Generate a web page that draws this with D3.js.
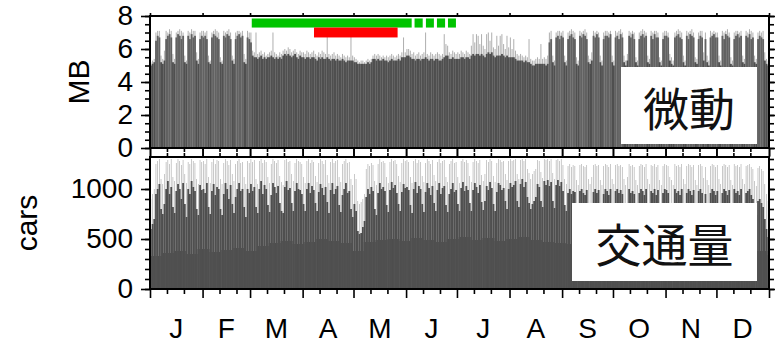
<!DOCTYPE html>
<html>
<head>
<meta charset="utf-8">
<script src="https://cdn.jsdelivr.net/npm/d3@7"></script>
<style>
body { margin: 0; background: #fff; }
text { font-family: "Liberation Sans", Arial, sans-serif; }
</style>
</head>
<body>
<div id="chart"></div>
<script>

// daily values for 2017, one line per month
var mbPeak = [
  5.2,5.3,5.4,7.0,7.1,7.1,5.6, 5.4,5.9,7.1,7.0,7.2,7.1,5.7, 5.4,7.0,7.1,7.2,7.1,7.0,5.6, 5.3,7.1,7.0,7.2,7.1,7.1,5.8, 5.4,7.0,7.1,
  7.1,7.0,7.1,5.6,5.3, 7.0,7.1,7.2,7.1,7.0,5.5,5.3, 7.1,7.0,7.1,7.2,7.0,5.6,5.4, 7.0,7.1,7.1,7.0,7.1,5.7,5.4, 7.1,7.0,
  7.0,5.9,5.8,7.0,5.7,5.8,5.9,5.7,5.8,5.6, 5.7,5.8,5.9,7.0,5.8,5.7,5.6,5.8,5.7,5.9, 6.0,5.9,6.1,6.0,5.8,5.9,6.0,5.8,5.7,5.9, 5.8,
  5.8,5.7,5.9,5.8,5.7,5.8,5.9,5.7,5.6,5.8, 5.7,5.9,5.8,5.7,6.9,5.7,5.6,5.7,5.8,5.6, 5.7,5.6,5.5,5.7,5.6,5.5,5.6,5.5,7.0,5.6,
  5.5,5.4,5.3,5.2,5.3,5.3,5.2,5.3,5.4,5.3, 5.4,5.6,5.7,5.6,5.7,5.6,5.5,5.6,5.5,5.6, 5.5,5.6,5.7,5.6,5.5,5.6,5.7,5.6,5.8,6.7, 5.8,
  6.0,6.0,5.9,5.7,5.8,5.6,5.7,5.8,5.6,5.7, 5.8,7.0,5.7,5.6,5.8,5.7,5.6,5.7,5.8,5.7, 5.6,5.7,6.9,6.3,6.2,5.8,5.7,5.9,5.8,5.7,
  5.8,5.7,5.9,5.8,5.7,5.9,5.8,5.7,6.2,6.9, 6.4,6.9,6.8,6.3,6.9,6.2,6.0,6.9,7.0,6.5, 7.0,6.1,6.0,6.8,6.2,6.8,6.9,6.3,6.0,6.8, 6.1,
  6.7,6.0,6.6,5.9,5.7,5.6,5.7,5.6,5.5,5.6, 5.5,6.6,5.4,5.3,5.3,5.4,5.5,5.4,6.3,5.4, 5.5,5.4,5.6,7.0,7.1,5.6,5.3,7.0,7.1,7.1, 7.0,
  7.1,5.6,5.3, 7.0,7.1,7.2,7.1,7.0,5.5,5.3, 7.1,7.0,7.1,7.2,7.0,5.6,5.4, 5.8,7.1,7.0,7.1,7.0,5.6,5.3, 7.0,7.1,7.1,7.0,7.1,5.6,
  5.3, 7.1,7.0,7.1,7.2,7.0, 5.6,5.3, 5.7,7.1,7.0,7.1,7.0, 5.5,5.3, 7.0,7.1,7.2,7.1,7.0, 5.6,5.4, 7.1,7.0,7.1,7.1,7.0, 5.5,5.3, 7.0,7.1,
  7.1,7.0,5.7,5.5,5.3, 7.0,7.1,7.2,7.1,7.0,5.6,5.3, 7.1,7.0,7.1,7.2,7.0,5.5,5.4, 7.0,7.1,7.1,5.8,7.0,5.6,5.3, 7.1,7.0,7.1,7.0,
  7.0,5.6,5.3, 7.1,7.0,7.1,7.2,7.0,5.5,5.3, 7.0,7.1,7.1,7.0,7.1,5.6,5.4, 7.1,7.0,7.2,7.1,7.0,5.6,5.4, 7.0,7.1,7.0,7.1,5.8,5.4,5.3
];
var mbBody = [
  5.0,5.1,5.2,6.5,6.8,6.7,5.2, 5.1,5.3,6.6,6.8,6.9,6.7,5.2, 5.1,6.7,6.9,6.8,6.6,6.8,5.2, 5.1,6.8,6.6,6.9,6.7,6.8,5.3, 5.1,6.6,6.8,
  6.7,6.8,6.6,5.2,5.1, 6.7,6.9,6.8,6.7,6.6,5.2,5.1, 6.8,6.7,6.9,6.8,6.6,5.3,5.1, 6.6,6.8,6.9,6.7,6.8,5.2,5.1, 6.7,6.6,
  6.4,5.6,5.5,5.5,5.4,5.5,5.6,5.4,5.5,5.4, 5.5,5.5,5.6,5.5,5.4,5.5,5.4,5.5,5.4,5.6, 5.7,5.6,5.7,5.6,5.5,5.6,5.7,5.5,5.4,5.6, 5.5,
  5.5,5.4,5.5,5.5,5.4,5.5,5.5,5.4,5.3,5.5, 5.4,5.5,5.4,5.4,5.5,5.4,5.3,5.4,5.4,5.3, 5.4,5.3,5.3,5.4,5.3,5.2,5.3,5.3,5.3,5.3,
  5.2,5.2,5.1,5.1,5.1,5.1,5.1,5.1,5.2,5.1, 5.2,5.4,5.4,5.3,5.4,5.3,5.3,5.4,5.3,5.3, 5.2,5.3,5.4,5.3,5.3,5.3,5.4,5.3,5.5,5.5, 5.5,
  5.6,5.6,5.5,5.4,5.4,5.3,5.4,5.4,5.3,5.4, 5.4,5.5,5.4,5.3,5.4,5.4,5.3,5.4,5.4,5.3, 5.3,5.4,5.5,5.6,5.6,5.4,5.4,5.5,5.4,5.4,
  5.4,5.4,5.5,5.5,5.4,5.5,5.5,5.4,5.6,5.7, 5.6,5.7,5.7,5.6,5.7,5.6,5.5,5.7,5.8,5.7, 5.8,5.6,5.5,5.6,5.6,5.6,5.7,5.6,5.5,5.6, 5.5,
  5.5,5.5,5.5,5.4,5.3,5.3,5.3,5.3,5.2,5.3, 5.2,5.2,5.1,5.0,5.0,5.1,5.1,5.1,5.1,5.1, 5.1,5.0,5.1,6.4,6.6,5.2,5.0,6.7,6.8,6.6, 6.8,
  6.7,5.2,5.0, 6.6,6.8,6.9,6.7,6.6,5.1,5.0, 6.8,6.7,6.9,6.8,6.6,5.2,5.1, 5.3,6.8,6.7,6.9,6.7,5.2,5.0, 6.6,6.8,6.8,6.7,6.9,5.2,
  5.0, 6.7,6.8,6.6,6.9,6.7, 5.2,5.0, 5.3,6.8,6.7,6.9,6.6, 5.2,5.0, 6.6,6.8,6.9,6.7,6.8, 5.2,5.1, 6.8,6.6,6.9,6.7,6.7, 5.2,5.0, 6.6,6.8,
  6.8,6.7,5.3,5.1,5.0, 6.7,6.8,6.9,6.7,6.6,5.2,5.0, 6.8,6.6,6.9,6.8,6.7,5.2,5.1, 6.6,6.8,6.7,5.3,6.6,5.2,5.0, 6.7,6.8,6.9,6.7,
  6.7,5.2,5.0, 6.8,6.6,6.9,6.8,6.7,5.1,5.0, 6.6,6.8,6.9,6.7,6.8,5.2,5.1, 6.8,6.7,6.9,6.6,6.7,5.2,5.1, 6.6,6.8,6.7,6.6,5.3,5.1,5.0
];

var carsPeak = [
  900,950,1000,1250,1280,1300,1100, 1050,1150,1270,1290,1250,1300,1120, 1080,1260,1300,1280,1240,1290,1150, 1060,1270,1250,1300,1280,1260,1100, 1050,1290,1270,
  1280,1250,1300,1120,1060, 1270,1300,1250,1290,1280,1100,1050, 1260,1300,1280,1240,1290,1150,1080, 1250,1280,1300,1260,1270,1120,1050, 1280,1260,
  1300,1270,1290,1100,1050, 1280,1300,1260,1290,1270,1120,1060, 1250,1300,1280,1260,1290,1130,1070, 1040,1290,1300,1270,1280,1150,1080, 1260,1300,1280,1270,1250,
  1120,1060, 1280,1300,1260,1290,1270, 1130,1070, 1260,1300,1280,1250,1290, 1140,1060, 1270,1300,1260,1280,1290, 1120,1070, 1250,1280,1300,1260,1270, 1100,1040,
  1150,1100,880,850,870,900,950, 1200,1250,1230,1260,1240,1080,1040, 1250,1300,1270,1280,1260,1120,1060, 1270,1300,1280,1290,1250,1130,1070, 1260,1300,1280,
  1290,1270,1120,1060, 1280,1300,1260,1290,1270,1130,1070, 1260,1300,1280,1250,1290,1140,1080, 1270,1300,1260,1280,1290,1120,1070, 1250,1280,1300,1260,1270,
  1120,1060, 1280,1300,1270,1290,1260, 1130,1070, 1270,1300,1280,1260,1290, 1140,1080,1150, 1290,1270,1300,1280, 1130,1070, 1260,1300,1290,1270,1280, 1150,1090, 1280,
  1300,1280,1290,1300,1150,1100, 1290,1300,1280,1300,1200,1160,1100, 1150,1180,1200,1290,1280,1170,1110, 1300,1290,1300,1280,1300,1160,1100, 1290,1300,1280,1300,
  1240,1100,1050, 1230,1250,1220,1240,1230,1090,1040, 1240,1250,1230,1220,1240,1100,1050, 1120,1240,1250,1230,1240,1090,1040, 1230,1250,1240,1220,1250,1100,
  1050, 1240,1250,1230,1240,1220, 1100,1040, 1120,1250,1230,1240,1220, 1090,1040, 1230,1250,1240,1220,1250, 1100,1050, 1240,1230,1250,1220,1240, 1090,1040, 1230,1250,
  1240,1230,1120,1090,1040, 1250,1230,1240,1220,1250,1100,1050, 1230,1250,1240,1220,1240,1090,1040, 1240,1250,1230,1110,1220,1090,1040, 1230,1250,1240,1220,
  1240,1100,1050, 1230,1250,1240,1220,1240,1090,1040, 1250,1230,1240,1220,1250,1100,1050, 1230,1240,1250,1220,1200,1080,1030, 1210,1230,1200,1180,1050,950,880
];
var carsBody = [
  600,650,700,950,1000,1050,800, 750,850,1000,1080,950,1020,820, 760,980,1050,1000,900,1060,850, 720,1000,950,1080,1020,980,800, 740,1040,990,
  1000,960,1060,820,750, 980,1050,940,1020,1000,800,740, 950,1060,1000,900,1040,850,760, 920,1000,1060,980,1000,820,720, 1000,960,
  1050,980,1020,820,760, 1000,1080,950,1040,1000,840,770, 940,1060,1020,960,1030,860,780, 760,1020,1080,990,1010,860,780, 980,1060,1000,990,950,
  850,780, 1000,1060,960,1030,990, 860,780, 970,1050,1010,940,1020, 870,760, 990,1060,950,1000,1030, 840,770, 940,1000,1060,960,980, 800,720,
  850,780,580,550,560,620,680, 920,1000,950,1020,980,800,740, 960,1060,1000,1020,980,840,770, 990,1070,1010,1040,960,850,780, 970,1050,1010,
  1020,990,840,760, 1000,1070,960,1030,1000,850,770, 970,1060,1010,940,1030,860,780, 990,1060,950,1010,1030,840,770, 950,1000,1060,970,990,
  850,780, 1010,1070,980,1030,990, 860,780, 990,1060,1020,960,1040, 870,790,880, 1030,990,1070,1010, 850,780, 970,1060,1040,990,1010, 880,800, 1000,
  1060,1020,1040,1080,880,820, 1050,1100,1020,1070,920,860,800, 850,880,920,1050,1020,880,820, 1080,1040,1090,1030,1070,880,810, 1040,1090,1030,1070,
  980,840,780, 960,1000,950,980,970,820,760, 980,1000,960,940,990,840,780, 850,970,1000,960,990,830,770, 950,1000,980,940,1000,840,
  770, 980,1000,960,990,950, 840,770, 850,1000,960,980,950, 830,760, 960,1000,980,940,1000, 840,780, 980,960,1000,940,990, 830,760, 960,1000,
  990,960,850,820,760, 1000,960,980,940,1000,840,780, 960,1000,980,940,990,830,760, 980,1000,960,840,950,830,770, 960,1000,980,940,
  980,840,770, 960,1000,980,940,990,830,760, 1000,960,980,940,1000,840,780, 960,980,1000,940,900,800,740, 880,900,860,820,700,600,520
];
// weekly night-time floor of the traffic counts
var carsNight = [
  330,360,380,350,400,370,390,410,380,430,460,480,450,470,500,480,460,380,470,490,
  500,480,510,490,470,500,520,490,510,480,500,520,490,470,460,450,470,440,460,450,
  470,440,460,450,430,460,440,450,430,420,400,380,340
];

var months = ["J","F","M","A","M","J","J","A","S","O","N","D"];
var mbTicks = [0, 2, 4, 6, 8];
var carTicks = [0, 500, 1000];

// observation periods (day of year, 0 = Jan 1)
var greenStart = [60, 156, 162.7, 169.2, 175.7];
var greenEnd = [154.3, 160.8, 167.4, 174, 180.4];
var redStart = [96.7];
var redEnd = [146];
var greenRange = [7.3, 7.85];
var redRange = [6.7, 7.3];

var W = 775, H = 344;
var left = 150, right = 769;
var p1 = {top: 16, bottom: 148};
var p2 = {top: 157, bottom: 289};

var svg = d3.select("#chart").append("svg").attr("width", W).attr("height", H);

var t0 = new Date(2017, 0, 1), t1 = new Date(2018, 0, 1);
var x = d3.scaleTime().domain([t0, t1]).range([left, right]);
function dx(i) { return x(t0) + (x(t1) - x(t0)) * i / 365; }
var dayW = (right - left) / 365;

var yMB = d3.scaleLinear().domain([0, 8]).range([p1.bottom, p1.top]);
var yCar = d3.scaleLinear().domain([0, 1320]).range([p2.bottom, p2.top]);

var dark = "#4f4f4f", light = "#b0b0b0";

svg.append("clipPath").attr("id", "c1").append("rect")
  .attr("x", left).attr("y", p1.top).attr("width", right - left).attr("height", p1.bottom - p1.top);
svg.append("clipPath").attr("id", "c2").append("rect")
  .attr("x", left).attr("y", p2.top).attr("width", right - left).attr("height", p2.bottom - p2.top);

// ---- panel 1: MB
var g1 = svg.append("g").attr("clip-path", "url(#c1)");
g1.append("g").selectAll("rect").data(mbPeak).join("rect")
  .attr("x", function(v, i) { return dx(i) + dayW * 0.2; })
  .attr("width", dayW * 0.6)
  .attr("y", function(v) { return yMB(v); })
  .attr("height", function(v) { return yMB(0) - yMB(v); })
  .attr("fill", light);
g1.append("g").selectAll("rect").data(mbBody).join("rect")
  .attr("x", function(v, i) { return dx(i); })
  .attr("width", dayW + 0.15)
  .attr("y", function(v) { return yMB(v); })
  .attr("height", function(v) { return yMB(0) - yMB(v); })
  .attr("fill", function(v) { return v > 6 ? "#626262" : dark; });

// ---- panel 2: cars
var g2 = svg.append("g").attr("clip-path", "url(#c2)");
g2.append("g").selectAll("rect").data(carsNight).join("rect")
  .attr("x", function(v, i) { return dx(i * 7); })
  .attr("width", dayW * 7 + 0.2)
  .attr("y", function(v) { return yCar(v); })
  .attr("height", function(v) { return yCar(0) - yCar(v); })
  .attr("fill", dark);
g2.append("g").selectAll("rect").data(carsPeak).join("rect")
  .attr("x", function(v, i) { return dx(i) + dayW * 0.3; })
  .attr("width", dayW * 0.4)
  .attr("y", function(v) { return yCar(v); })
  .attr("height", function(v) { return yCar(0) - yCar(v); })
  .attr("fill", light);
g2.append("g").selectAll("rect").data(carsBody).join("rect")
  .attr("x", function(v, i) { return dx(i); })
  .attr("width", dayW + 0.1)
  .attr("y", function(v) { return yCar(v); })
  .attr("height", function(v) { return yCar(0) - yCar(v); })
  .attr("fill", dark);

// ---- green / red period bars
svg.append("g").selectAll("rect").data(greenStart).join("rect")
  .attr("x", function(v) { return dx(v); })
  .attr("width", function(v, i) { return dx(greenEnd[i]) - dx(v); })
  .attr("y", yMB(greenRange[1]))
  .attr("height", yMB(greenRange[0]) - yMB(greenRange[1]))
  .attr("fill", "#00c400");
svg.append("g").selectAll("rect").data(redStart).join("rect")
  .attr("x", function(v) { return dx(v); })
  .attr("width", function(v, i) { return dx(redEnd[i]) - dx(v); })
  .attr("y", yMB(redRange[1]))
  .attr("height", yMB(redRange[0]) - yMB(redRange[1]))
  .attr("fill", "#ff0000");

// ---- label boxes
function labelBox(x0, y0, w, h, txt) {
  svg.append("rect").attr("x", x0).attr("y", y0).attr("width", w).attr("height", h).attr("fill", "#fff");
  svg.append("text").attr("x", x0 + w / 2).attr("y", y0 + h / 2)
    .attr("text-anchor", "middle").attr("dominant-baseline", "central")
    .style("font-family", '"Noto Sans CJK JP", sans-serif')
    .style("font-size", "46px").attr("fill", "#111").text(txt);
}
labelBox(621, 67, 136, 77, "微動");
labelBox(572, 203, 185, 78, "交通量");

// ---- axes
var monthStarts = d3.timeMonth.range(t0, d3.timeDay.offset(t1, 1));
var minorDays = [];
monthStarts.slice(0, 12).forEach(function(m) {
  minorDays.push(d3.timeDay.offset(m, 10), d3.timeDay.offset(m, 20));
});

function styleAxis(g) {
  g.select(".domain").remove();
  g.selectAll(".tick line").attr("stroke", "#000").attr("stroke-width", 1.6);
  g.selectAll(".tick text").style("font-size", "28px").attr("fill", "#000");
}

function yAxes(scale, major, minorStep) {
  var minor = d3.range(scale.domain()[0], scale.domain()[1] + 1e-9, minorStep);
  svg.append("g").attr("transform", "translate(" + left + ",0)")
    .call(d3.axisLeft(scale).tickValues(minor).tickSize(5).tickFormat("")).call(styleAxis);
  svg.append("g").attr("transform", "translate(" + left + ",0)")
    .call(d3.axisLeft(scale).tickValues(major).tickSize(9).tickPadding(8).tickFormat(d3.format("d"))).call(styleAxis);
  svg.append("g").attr("transform", "translate(" + right + ",0)")
    .call(d3.axisRight(scale).tickValues(minor).tickSize(5).tickFormat("")).call(styleAxis);
  svg.append("g").attr("transform", "translate(" + right + ",0)")
    .call(d3.axisRight(scale).tickValues(major).tickSize(9).tickFormat("")).call(styleAxis);
}
yAxes(yMB, mbTicks, 0.5);
yAxes(yCar, carTicks, 100);

function xAxes(y, dir, majorLen, minorLen) {
  var ax = dir > 0 ? d3.axisBottom : d3.axisTop;
  svg.append("g").attr("transform", "translate(0," + y + ")")
    .call(ax(x).tickValues(monthStarts).tickSize(majorLen).tickFormat("")).call(styleAxis);
  if (minorLen > 0) {
    svg.append("g").attr("transform", "translate(0," + y + ")")
      .call(ax(x).tickValues(minorDays).tickSize(minorLen).tickFormat("")).call(styleAxis);
  }
}
xAxes(p1.top, -1, 3, 0);
xAxes(p1.bottom, 1, 8, 4);
xAxes(p2.top, -1, 8, 4);
xAxes(p2.bottom, 1, 9, 5);

// month letters
svg.append("g").selectAll("text").data(months).join("text")
  .attr("x", function(m, i) { return (x(monthStarts[i]) + x(monthStarts[i + 1])) / 2; })
  .attr("y", 338)
  .attr("text-anchor", "middle")
  .style("font-size", "28px")
  .text(function(m) { return m; });

// frames
[p1, p2].forEach(function(p) {
  svg.append("rect").attr("x", left).attr("y", p.top)
    .attr("width", right - left).attr("height", p.bottom - p.top)
    .attr("fill", "none").attr("stroke", "#000").attr("stroke-width", 2);
});

// axis titles
svg.append("text").attr("transform", "translate(89," + (p1.top + p1.bottom) / 2 + ") rotate(-90)")
  .attr("text-anchor", "middle").style("font-size", "30px").text("MB");
svg.append("text").attr("transform", "translate(37," + (p2.top + p2.bottom) / 2 + ") rotate(-90)")
  .attr("text-anchor", "middle").style("font-size", "30px").text("cars");

</script>
</body>
</html>
